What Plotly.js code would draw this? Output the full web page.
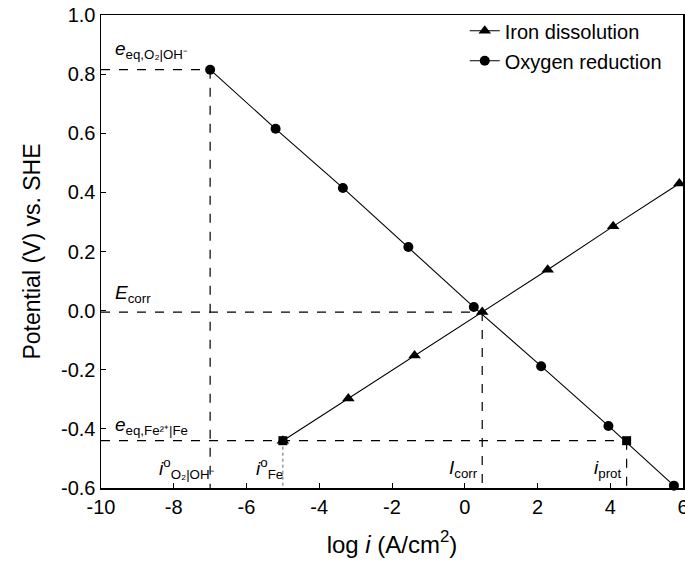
<!DOCTYPE html>
<html>
<head>
<meta charset="utf-8">
<script src="https://cdn.plot.ly/plotly-3.0.1.min.js"></script>
<style>html,body{margin:0;padding:0;background:#fff;}#chart{width:685px;height:567px;}</style>
</head>
<body>
<div id="chart"></div>
<script>
// Oxygen reduction (circles)
var o2X = [-7.0, -5.2, -3.35, -1.55, 0.25, 2.1, 3.95, 5.75];
var o2Y = [0.815, 0.615, 0.415, 0.215, 0.012, -0.188, -0.39, -0.592];
// Iron dissolution (triangles)
var feX = [-5.0, -3.2, -1.38, 0.48, 2.28, 4.08, 5.9];
var feY = [-0.44, -0.297, -0.152, -0.005, 0.138, 0.285, 0.43];
// Square markers (i_Fe^o and i_prot)
var sqX = [-5.0, 4.45];
var sqY = [-0.44, -0.44];
// Key values
var eqO2 = 0.815, iO2 = -7.0;
var eqFe = -0.44, iFe = -5.0;
var Ecorr = -0.005, Icorr = 0.48;
var iProt = 4.45;
var yMin = -0.6, yMax = 1.0, xMin = -10, xMax = 6;
var xTicks = [-10, -8, -6, -4, -2, 0, 2, 4, 6];
var xTickText = ['-10', '-8', '-6', '-4', '-2', '0', '2', '4', '6'];
var yTicks = [-0.6, -0.4, -0.2, 0.0, 0.2, 0.4, 0.6, 0.8, 1.0];
var yTickText = ['-0.6', '-0.4', '-0.2', '0.0', '0.2', '0.4', '0.6', '0.8', '1.0'];

var font = 'Arial, "Liberation Sans", sans-serif';

var traces = [
  {x: feX, y: feY, mode: 'lines+markers', name: 'Iron dissolution', legendgroup: 'a',
   line: {color: '#000', width: 1.1}, marker: {symbol: 'triangle-up', size: 11, color: '#000'}, cliponaxis: false},
  {x: o2X, y: o2Y, mode: 'lines+markers', name: 'Oxygen reduction', legendgroup: 'b',
   line: {color: '#000', width: 1.1}, marker: {symbol: 'circle', size: 10, color: '#000'}, cliponaxis: false},
  {x: sqX, y: sqY, mode: 'markers', showlegend: false,
   marker: {symbol: 'square', size: 9, color: '#000'}, cliponaxis: false}
];

var dash = {color: '#000', width: 1.2, dash: 'dash'};
var shapes = [
  {type: 'line', x0: xMin, x1: iO2, y0: eqO2, y1: eqO2, line: dash, layer: 'below'},
  {type: 'line', x0: iO2, x1: iO2, y0: eqO2, y1: yMin, line: dash, layer: 'below'},
  {type: 'line', x0: xMin, x1: Icorr, y0: Ecorr, y1: Ecorr, line: dash, layer: 'below'},
  {type: 'line', x0: Icorr, x1: Icorr, y0: Ecorr, y1: yMin, line: dash, layer: 'below'},
  {type: 'line', x0: xMin, x1: iProt, y0: eqFe, y1: eqFe, line: dash, layer: 'below'},
  {type: 'line', x0: iProt, x1: iProt, y0: eqFe, y1: yMin, line: dash, layer: 'below'},
  {type: 'line', x0: iFe, x1: iFe, y0: eqFe, y1: yMin, line: {color: '#666', width: 1, dash: 'dot'}, layer: 'below'}
];

function ann(x, y, text, size) {
  return {x: x, y: y, xref: 'x', yref: 'y', text: text, showarrow: false,
          xanchor: 'left', yanchor: 'middle', font: {family: font, size: size || 19, color: '#000'}};
}
var annotations = [
  ann(-9.68, 0.88, '<i>e</i><sub>eq,O₂|OH⁻</sub>'),
  ann(-9.68, 0.055, '<i>E</i><sub>corr</sub>'),
  ann(-9.68, -0.39, '<i>e</i><sub>eq,Fe²⁺|Fe</sub>'),
  ann(-8.45, -0.535, '<i>i</i><sup>o</sup><sub>O₂|OH⁻</sub>'),
  ann(-5.8, -0.535, '<i>i</i><sup>o</sup><sub>Fe</sub>'),
  ann(-0.5, -0.535, '<i>I</i><sub>corr</sub>'),
  ann(3.5, -0.535, '<i>i</i><sub>prot</sub>')
];

var layout = {
  width: 685, height: 567,
  margin: {l: 101, r: 2, t: 15, b: 79},
  paper_bgcolor: '#fff', plot_bgcolor: '#fff',
  font: {family: font, size: 20, color: '#000'},
  showlegend: true,
  legend: {x: 0.625, y: 1.008, xanchor: 'left', yanchor: 'top', bgcolor: 'rgba(0,0,0,0)',
           font: {family: font, size: 20, color: '#000'}, traceorder: 'grouped', tracegroupgap: 1},
  xaxis: {range: [xMin, xMax], tickvals: xTicks, ticktext: xTickText, ticks: 'inside', ticklen: 5,
          tickcolor: '#000', showline: true, linecolor: '#000', linewidth: 1.5, mirror: true,
          showgrid: false, zeroline: false, tickfont: {size: 20}, ticklabeloverflow: 'allow',
          title: {text: 'log <i>i</i> (A/cm<sup>2</sup>)', font: {size: 24}, standoff: 19}},
  yaxis: {range: [yMin, yMax], tickvals: yTicks, ticktext: yTickText, ticks: 'inside', ticklen: 5,
          tickcolor: '#000', showline: true, linecolor: '#000', linewidth: 1.5, mirror: true,
          showgrid: false, zeroline: false, tickfont: {size: 20},
          title: {text: 'Potential (V) vs. SHE', font: {size: 23}, standoff: 14}},
  shapes: shapes,
  annotations: annotations
};

Plotly.newPlot('chart', traces, layout, {displayModeBar: false, staticPlot: true});
</script>
</body>
</html>
